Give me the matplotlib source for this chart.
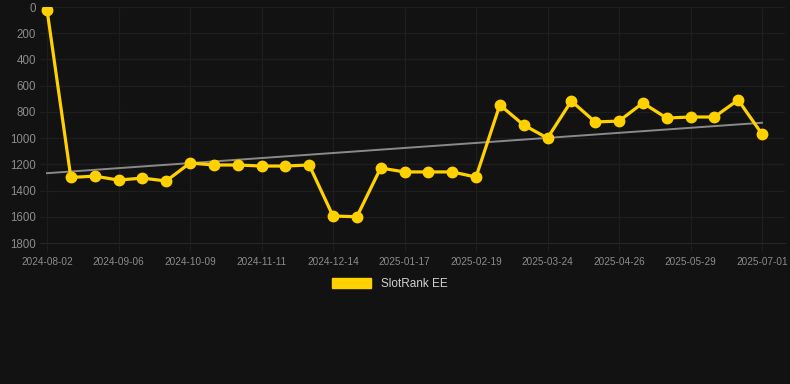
import matplotlib.pyplot as plt
import matplotlib.patches as mpatches
import numpy as np

# ranks, one point every ~11 days
ranks = [20, 1300, 1290, 1320, 1305, 1327, 1190, 1205, 1205, 1213, 1213, 1205,
         1594, 1600, 1228, 1258, 1258, 1258, 1297, 747, 900, 1000, 717, 877,
         870, 732, 847, 839, 839, 709, 969]
tick_labels = ['2024-08-02', '2024-09-06', '2024-10-09', '2024-11-11', '2024-12-14',
               '2025-01-17', '2025-02-19', '2025-03-24', '2025-04-26', '2025-05-29',
               '2025-07-01']
series_name = 'SlotRank EE'

bg = '#121212'
yellow = '#FFD100'

x = np.arange(len(ranks))
fig = plt.figure(figsize=(7.9, 3.84), dpi=100, facecolor=bg)
ax = fig.add_axes([40/790, 1-243/384, 745/790, 236/384])
ax.set_facecolor(bg)

# trend line (linear fit)
k, b = np.polyfit(x, ranks, 1)
ax.plot(x, k*x + b, color='#8a8a8a', lw=1.4, zorder=2)

ax.plot(x, ranks, color=yellow, lw=2.3, marker='o', markersize=7.5, zorder=3)

ax.set_ylim(1800, 0)
ax.set_yticks(range(0, 1801, 200))
step = 715/30
ax.set_xlim(-7/step, 30 + 23/step)
ax.set_xticks(x[::3])
ax.set_xticklabels(tick_labels)

ax.grid(True, color='#1e1e1e', lw=0.9)
ax.set_axisbelow(True)
for s in ax.spines.values():
    s.set_visible(False)
ax.spines['bottom'].set_visible(True)
ax.spines['bottom'].set_color('#262626')
ax.tick_params(colors='#8c8c8c')
ax.tick_params(axis='y', length=0, pad=3)
ax.tick_params(axis='x', length=6, color='#1e1e1e', pad=4)
for lab in ax.get_yticklabels():
    lab.set_fontfamily('Liberation Sans')
    lab.set_fontsize(8.3)
for lab in ax.get_xticklabels():
    lab.set_fontfamily('Liberation Sans')
    lab.set_fontsize(7.2)

handle = mpatches.Patch(color=yellow, label=series_name)
leg = fig.legend(handles=[handle], loc='center', bbox_to_anchor=(390/790, 1-284/384),
                 frameon=False, handlelength=3.3, handleheight=1.0,
                 prop={'family': 'Liberation Sans', 'size': 8.5})
for t in leg.get_texts():
    t.set_color('#d0d0d0')

fig.savefig('out.png', dpi=100, facecolor=bg)
